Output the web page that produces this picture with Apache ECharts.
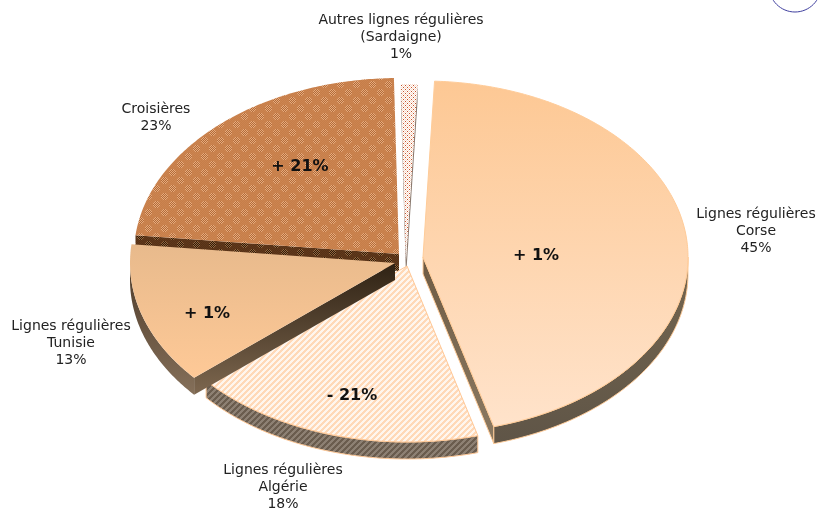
<!DOCTYPE html>
<html><head><meta charset="utf-8">
<style>html,body{margin:0;padding:0;background:#fff}#c{width:819px;height:508px}</style>
<script src="https://cdn.jsdelivr.net/npm/echarts@6/dist/echarts.min.js"></script>
</head><body><div id="c"></div>
<script>
const categories = [["Lignes régulières","Corse"],["Lignes régulières","Algérie"],["Lignes régulières","Tunisie"],["Croisières"],["Autres lignes régulières","(Sardaigne)"]];
const shares = [45,18,13,23,1];
const changes = ["+ 1%","- 21%","+ 1%","+ 21%",""];

// layout (not data)
const centers = [[423,257],[407,266],[395,263],[399,254],[406,260]];
const labelPos = [[756,214],[283,470],[71,326],[156,109],[401,20]];
const changePos = [[536,256],[352,396],[207,314],[300,167],null];
const drawOrder = [4,2,3,1,0]; // paint rank of each slice
const RX=265, RY=176, DEPTH=17, START=2.5;
const FONT='"DejaVu Sans"';

function pat(w,h,f){const c=document.createElement('canvas');c.width=w;c.height=h;const g=c.getContext('2d');
  for(let y=0;y<h;y++)for(let x=0;x<w;x++){g.fillStyle=f(x,y);g.fillRect(x,y,1,1);}
  return {image:c,repeat:'repeat'};}
function halftone(a,b,c,d){return pat(16,16,(x,y)=>{
  const dd=Math.min(Math.hypot(x-4,y-4),Math.hypot(x-12,y-12));
  const chk=(x+y)%2===0;
  return dd<3.2?(chk?a:b):(chk?c:d);});}
const G=(a,b)=>new echarts.graphic.LinearGradient(0,0,0,1,[{offset:0,color:a},{offset:1,color:b}]);
const styles=[
 {top:G('#fdc894','#ffe3cb'),outer:G('#75664f','#5f5547'),radial:G('#6e5b44','#8c7a62'),stroke:'#ffcc99'},
 {top:pat(6,6,(x,y)=>((x+y)%6<3?'#ffd9b8':'#fff6ee')),outer:pat(6,6,(x,y)=>((x+y)%6<3?'#6a5c4e':'#8d8073')),radial:'#6a5c4e',stroke:'#ffc896'},
 {top:G('#e8ba8c','#fec997'),outer:G('#4e3b2a','#85705a'),radial:G('#2f2214','#7d674f'),stroke:null},
 {top:halftone('#e6ab7e','#b36b38','#cc8450','#c67e49'),outer:'#4a2c14',radial:halftone('#94683f','#2e1a0a','#60391c','#563116'),stroke:null},
 {top:pat(4,4,(x,y)=>((x%4===1&&y%4===1)||(x%4===3&&y%4===3)?'#c8522a':(x%2===y%2?'#f6d9c8':'#ffffff'))),outer:'#8a6a55',radial:'#8a7a70',stroke:null}
];
const pt=(c,t,d)=>{const a=t*Math.PI/180;return [c[0]+RX*Math.sin(a),c[1]-RY*Math.cos(a)+(d||0)];};
function arc(c,a,b,d){const n=Math.max(2,Math.ceil(Math.abs(b-a)*1.5)),o=[];for(let i=0;i<=n;i++)o.push(pt(c,a+(b-a)*i/n,d));return o;}

const total=shares.reduce((s,v)=>s+v,0);
const renderItem=(params,api)=>{
  const i=params.dataIndex, v=api.value(0);
  let s0=START;for(let k=0;k<i;k++)s0+=shares[k]/total*360;
  const s1=s0+v/total*360, c=centers[i], st=styles[i], kids=[], z=drawOrder[i]*10;
  const add=(pts,fill,zz,stroke)=>kids.push({type:'polygon',z2:z+zz,shape:{points:pts},style:{fill,stroke:stroke||null,lineWidth:stroke?1:0}});
  const s=((s0%360)+360)%360, e=((s1%360)+360)%360;
  if(e>0&&e<180){const p=pt(c,s1);add([c,p,[p[0],p[1]+DEPTH],[c[0],c[1]+DEPTH]],st.radial,1,st.stroke);}
  if(s>180&&s<360){const p=pt(c,s0);add([c,p,[p[0],p[1]+DEPTH],[c[0],c[1]+DEPTH]],st.radial,1,st.stroke);}
  const a=Math.max(s0,90), b=Math.min(s1,270);
  if(b>a){add(arc(c,a,b,0).concat(arc(c,b,a,DEPTH)),st.outer,2,st.stroke);}
  add([c].concat(arc(c,s0,s1,0)),st.top,3,st.stroke);
  return {type:'group',children:kids};
};

const textEls=[];
categories.forEach((cat,i)=>{
  const lines=cat.concat([shares[i]+'%']);
  lines.forEach((t,j)=>textEls.push({type:'text',x:labelPos[i][0],y:labelPos[i][1]+j*17,z:20,
    style:{text:t,font:'14px '+FONT,fill:'#222',textAlign:'center',textVerticalAlign:'middle'}}));
  if(changePos[i])textEls.push({type:'text',x:changePos[i][0],y:changePos[i][1],z:20,
    style:{text:changes[i],font:'bold 16px '+FONT,fill:'#111',textAlign:'center',textVerticalAlign:'middle'}});
});
textEls.push({type:'ellipse',shape:{cx:795,cy:-14,rx:26,ry:26},style:{fill:'none',stroke:'#3f3f9f',lineWidth:1},z:20});

const chart=echarts.init(document.getElementById('c'),null,{renderer:'canvas'});
chart.setOption({animation:false,backgroundColor:'#fff',
  series:[{type:'custom',coordinateSystem:'none',silent:true,renderItem,data:shares.map(v=>[v])}],
  graphic:textEls});
</script></body></html>
